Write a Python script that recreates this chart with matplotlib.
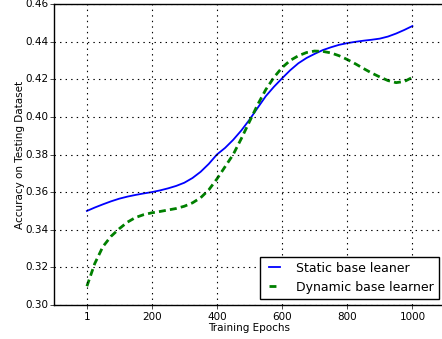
import matplotlib
matplotlib.use("Agg")
import matplotlib.pyplot as plt

epochs = [1, 25, 50, 75, 100, 125, 150, 175, 200, 225, 250, 275, 300, 325,
          350, 375, 400, 425, 450, 475, 500, 525, 550, 575, 600, 625, 650,
          675, 700, 725, 750, 775, 800, 825, 850, 875, 900, 925, 950, 975, 1000]
static_acc = [0.3500, 0.3518, 0.3535, 0.3551, 0.3565, 0.3576, 0.3585, 0.3593,
              0.3600, 0.3609, 0.3620, 0.3633, 0.3650, 0.3675, 0.3708, 0.3750,
              0.3800, 0.3835, 0.3878, 0.3928, 0.3985, 0.4048, 0.4110, 0.4160,
              0.4205, 0.4248, 0.4285, 0.4313, 0.4335, 0.4355, 0.4370, 0.4383,
              0.4392, 0.4399, 0.4405, 0.4410, 0.4416, 0.4427, 0.4443, 0.4462,
              0.4483]
dynamic_acc = [0.3100, 0.3220, 0.3310, 0.3365, 0.3405, 0.3440, 0.3465, 0.3480,
               0.3490, 0.3497, 0.3505, 0.3513, 0.3525, 0.3543, 0.3570, 0.3612,
               0.3670, 0.3735, 0.3800, 0.3885, 0.3975, 0.4065, 0.4145, 0.4210,
               0.4262, 0.4300, 0.4325, 0.4342, 0.4350, 0.4348, 0.4340, 0.4325,
               0.4305, 0.4282, 0.4257, 0.4233, 0.4212, 0.4193, 0.4182, 0.4188,
               0.4210]
xticks = [1, 200, 400, 600, 800, 1000]
yticks = [0.30, 0.32, 0.34, 0.36, 0.38, 0.40, 0.42, 0.44, 0.46]

plt.style.use("classic")
fig = plt.figure(figsize=(4.42, 3.39), dpi=100)
# right spine falls just past the image edge, like the reference crop
ax = fig.add_axes([54 / 442, 34 / 339, 391 / 442, 301 / 339])

ax.plot(epochs, static_acc, color="b", linestyle="-", linewidth=1.3,
        label="Static base leaner")
ax.plot(epochs, dynamic_acc, color="g", linestyle="--", dashes=(5, 3),
        linewidth=2, label="Dynamic base learner")

ax.set_xlim(-100, 1100)
ax.set_ylim(0.30, 0.46)
ax.set_xticks(xticks)
ax.set_yticks(yticks)
ax.set_yticklabels([f"{v:.2f}" for v in yticks])
ax.tick_params(direction="out", length=3, labelsize=7.5, top=False, right=False)
ax.tick_params(axis="x", pad=2)
ax.tick_params(axis="y", pad=1)
ax.grid(True, linestyle=":", color="black", linewidth=0.8)
ax.set_xlabel("Training Epochs", fontsize=7.5, labelpad=1)
ax.set_ylabel("Accuracy on Testing Dataset", fontsize=7.5, labelpad=0)
ax.legend(loc="lower right", fontsize=9, handlelength=1.5, handletextpad=1.0)

fig.savefig("out.png", dpi=100)
